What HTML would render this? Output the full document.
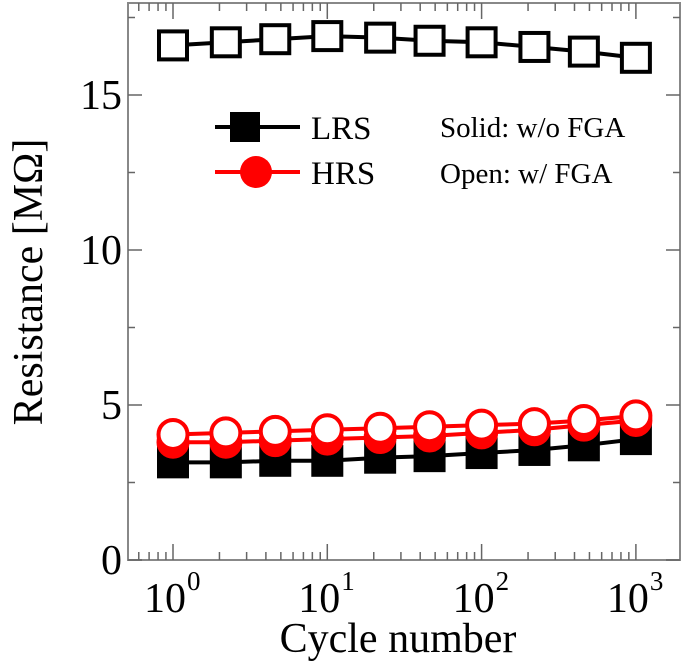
<!DOCTYPE html>
<html><head><meta charset="utf-8"><style>
body{margin:0;background:#fff}
svg{display:block;font-family:"Liberation Serif",serif}
</style></head><body>
<svg id="chart" width="685" height="668"></svg>
<script>
const cycles=[1,2.2,4.6,10,22,46,100,220,460,1000];
const lrsWoFGA=[3.15,3.15,3.2,3.2,3.3,3.35,3.45,3.55,3.7,3.9];
const hrsWoFGA=[3.8,3.8,3.85,3.9,3.95,4.0,4.1,4.2,4.35,4.5];
const hrsWFGA=[4.05,4.1,4.15,4.2,4.25,4.3,4.35,4.4,4.5,4.65];
const lrsWFGA=[16.6,16.7,16.8,16.9,16.85,16.75,16.7,16.55,16.4,16.2];
const yTicks=[0,5,10,15];
const xTickExps=[0,1,2,3];
const L=128,R=680,T=3,B=560;
const xs=v=>173+(Math.log10(v))*154.3;
const ys=v=>B-v*31;
const svg=document.getElementById('chart');
const NS='http://www.w3.org/2000/svg';
function mk(tag,attrs,parent){const e=document.createElementNS(NS,tag);for(const k in attrs)e.setAttribute(k,attrs[k]);(parent||svg).appendChild(e);return e;}
let f=mk('rect',{x:L,y:T,width:R-L,height:B-T,fill:'none',stroke:'#888','stroke-width':2});


for(let v=0;v<=17.5;v+=2.5){const major=v%5===0;const len=major?14:7;
mk('line',{x1:L,x2:L+len,y1:ys(v),y2:ys(v),stroke:'#666','stroke-width':1.5});
mk('line',{x1:R,x2:R-len,y1:ys(v),y2:ys(v),stroke:'#666','stroke-width':1.5});}
yTicks.forEach(v=>{const t=mk('text',{x:L-6,y:ys(v)+14,'text-anchor':'end','font-size':42,fill:'#000'});t.textContent=v;

});
for(let e=-1;e<=3;e++){for(let m=1;m<10;m++){const v=m*Math.pow(10,e);const x=xs(v);if(x<L||x>R)continue;const len=m===1?16:8;
mk('line',{x1:x,x2:x,y1:B,y2:B-len,stroke:'#666','stroke-width':1.5});
mk('line',{x1:x,x2:x,y1:T,y2:T+len,stroke:'#666','stroke-width':1.5});}}
xTickExps.forEach(e=>{const x=xs(Math.pow(10,e));const t=mk('text',{x:x-8,y:612,'text-anchor':'middle','font-size':42,fill:'#000'});t.textContent='10';


const s=mk('text',{x:x+14,y:590,'font-size':27,fill:'#000'});s.textContent=e;});
let xt=mk('text',{x:398,y:652,'text-anchor':'middle','font-size':42,fill:'#000'});xt.textContent='Cycle number';


let yt=mk('text',{x:0,y:0,'text-anchor':'middle','font-size':42,fill:'#000',transform:'translate(42,282) rotate(-90)'});yt.textContent='Resistance [MΩ]';


function series(vals,color,shape,filled,name){
const g=mk('g',{});


mk('polyline',{points:cycles.map((c,i)=>xs(c)+','+ys(vals[i])).join(' '),fill:'none',stroke:color,'stroke-width':4},g);
cycles.forEach((c,i)=>{const x=xs(c),y=ys(vals[i]);let m;
if(shape==='sq')m=mk('rect',{x:x-14,y:y-14,width:28,height:28,fill:filled?color:'#fff',stroke:color,'stroke-width':4},g);
else m=mk('circle',{cx:x,cy:y,r:14.5,fill:filled?color:'#fff',stroke:color,'stroke-width':4},g);

});}
series(lrsWoFGA,'#000','sq',true,'lrs-solid-series');
series(hrsWoFGA,'#f00','ci',true,'hrs-solid-series');
series(hrsWFGA,'#f00','ci',false,'hrs-open-series');
series(lrsWFGA,'#000','sq',false,'lrs-open-series');
const lg=mk('g',{});


mk('line',{x1:215,x2:300,y1:127,y2:127,stroke:'#000','stroke-width':4},lg);
mk('rect',{x:230,y:112,width:30,height:30,fill:'#000'},lg);
mk('line',{x1:215,x2:300,y1:172,y2:172,stroke:'#f00','stroke-width':4},lg);
mk('circle',{cx:256,cy:172,r:16,fill:'#f00'},lg);
let a=mk('text',{x:311,y:139,'font-size':33},lg);a.textContent='LRS';
let b=mk('text',{x:311,y:184,'font-size':33},lg);b.textContent='HRS';
let c=mk('text',{x:440,y:137,'font-size':29},lg);c.textContent='Solid: w/o FGA';
let d=mk('text',{x:440,y:183,'font-size':29},lg);d.textContent='Open: w/ FGA';
</script>
</body></html>
